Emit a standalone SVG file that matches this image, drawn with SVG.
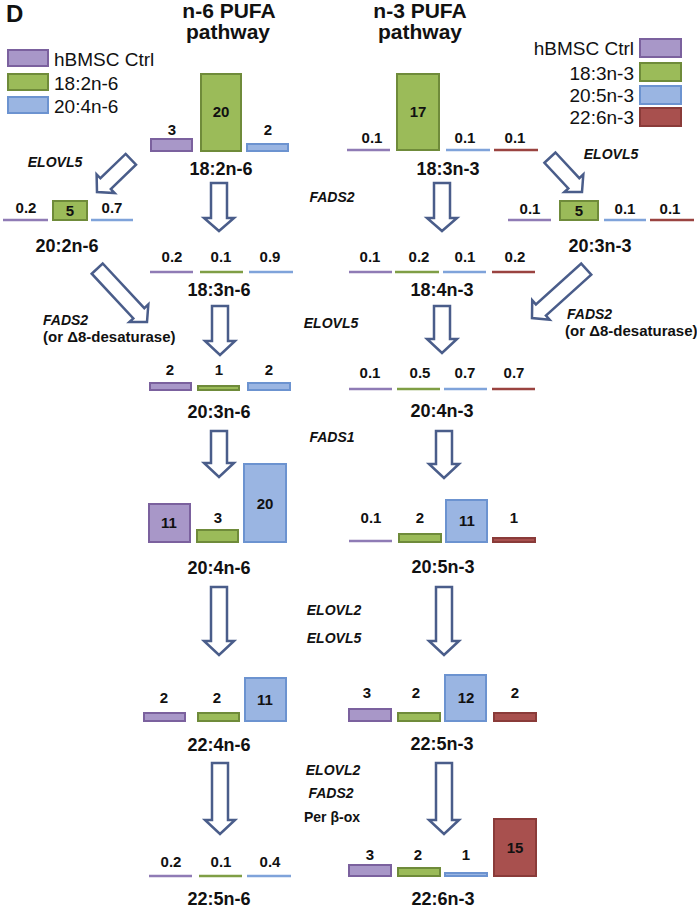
<svg xmlns="http://www.w3.org/2000/svg" width="697" height="910" viewBox="0 0 697 910">
<style>
text{font-family:"Liberation Sans",Arial,sans-serif;fill:#111}
.t{font-size:21px;font-weight:bold;text-anchor:middle}
.lg{font-size:19px}
.v{font-size:15px;font-weight:bold;text-anchor:middle}
.n{font-size:18px;font-weight:bold;text-anchor:middle}
.e{font-size:14px;font-weight:bold;font-style:italic;text-anchor:middle}
.el{font-size:14px;font-weight:bold;font-style:italic}
.p{font-size:15px;font-weight:bold}
.pu{fill:#A897C8;stroke:#7B619E;stroke-width:2}
.gr{fill:#9BBB59;stroke:#6F8B3A;stroke-width:2}
.bl{fill:#9AB5E2;stroke:#6C93D0;stroke-width:2}
.rd{fill:#A8504E;stroke:#8A3B39;stroke-width:2}
.lpu{stroke:#8F7BB5;stroke-width:2.5}
.lgr{stroke:#7F9E45;stroke-width:2.5}
.lbl{stroke:#7FA3DA;stroke-width:2.5}
.lrd{stroke:#9A4340;stroke-width:2.5}
.ar{fill:#fff;stroke:#4A5D8A;stroke-width:2.5;stroke-linejoin:miter}
</style>
<defs>
<polygon id="da47" points="-7.5,-47 7.5,-47 7.5,-12 13,-12 0,0 -13,-12 -7.5,-12"/>
<polygon id="da73" points="-7.5,-73 7.5,-73 7.5,-12 13,-12 0,0 -13,-12 -7.5,-12"/>
</defs>

<g id="title">
<text x="6" y="22" style="font-size:24px;font-weight:bold">D</text>
<text class="t" x="229" y="18">n-6 PUFA</text>
<text class="t" x="228" y="39">pathway</text>
<text class="t" x="420" y="18">n-3 PUFA</text>
<text class="t" x="420" y="39">pathway</text>
</g>

<g id="legend-n6">
<rect class="pu" x="8" y="50" width="40" height="16"/>
<rect class="gr" x="8" y="74" width="40" height="16"/>
<rect class="bl" x="8" y="97" width="40" height="16"/>
<text class="lg" x="54" y="66">hBMSC Ctrl</text>
<text class="lg" x="54" y="90">18:2n-6</text>
<text class="lg" x="54" y="113">20:4n-6</text>
</g>

<g id="legend-n3">
<rect class="pu" x="640" y="39" width="41" height="18"/>
<rect class="gr" x="640" y="63" width="41" height="18"/>
<rect class="bl" x="640" y="86" width="41" height="18"/>
<rect class="rd" x="640" y="108" width="41" height="18"/>
<text class="lg" x="634" y="55" text-anchor="end">hBMSC Ctrl</text>
<text class="lg" x="634" y="80" text-anchor="end">18:3n-3</text>
<text class="lg" x="634" y="102" text-anchor="end">20:5n-3</text>
<text class="lg" x="634" y="124" text-anchor="end">22:6n-3</text>
</g>

<g id="connectors">
<polygon class="ar" points="211,183 227,183 227,218 234,218 219,231 204,218 211,218"/>
<polygon class="ar" points="212,306 228,306 228,341 235,341 220,355 205,341 212,341"/>
<polygon class="ar" points="211,431 227,431 227,463 234,463 219,477 204,463 211,463"/>
<polygon class="ar" points="211,587 227,587 227,641 234,641 219,655 204,641 211,641"/>
<polygon class="ar" points="212,763 228,763 228,820 235,820 220,834 205,820 212,820"/>
<polygon class="ar" points="434,183 450,183 450,218 457,218 442,231 427,218 434,218"/>
<polygon class="ar" points="434,306 450,306 450,339 457,339 442,353 427,339 434,339"/>
<polygon class="ar" points="436,431 452,431 452,464 459,464 444,478 429,464 436,464"/>
<polygon class="ar" points="436,587 452,587 452,641 459,641 444,655 429,641 436,641"/>
<polygon class="ar" points="436,763 452,763 452,820 459,820 444,834 429,820 436,820"/>
<use href="#da47" class="ar" transform="translate(97,192) rotate(46)"/>
<use href="#da47" class="ar" transform="translate(582,192) rotate(-43)"/>
<use href="#da73" class="ar" transform="translate(147,322) rotate(-43)"/>
<use href="#da73" class="ar" transform="translate(532,318) rotate(48)"/>
</g>

<g id="enzymes">
<text class="e" x="55" y="167">ELOVL5</text>
<text class="e" x="332" y="202">FADS2</text>
<text class="e" x="611" y="159">ELOVL5</text>
<text class="el" x="43" y="325">FADS2</text>
<text class="p" x="43" y="342">(or Δ8-desaturase)</text>
<text class="e" x="331" y="328">ELOVL5</text>
<text class="el" x="567" y="319">FADS2</text>
<text class="p" x="565" y="336">(or Δ8-desaturase)</text>
<text class="e" x="332" y="442">FADS1</text>
<text class="e" x="334" y="615">ELOVL2</text>
<text class="e" x="334" y="643">ELOVL5</text>
<text class="e" x="333" y="775">ELOVL2</text>
<text class="e" x="331" y="798">FADS2</text>
<text x="332" y="822" style="font-size:14px;font-weight:bold;text-anchor:middle">Per β-ox</text>
</g>

<g id="n-18-2n-6">
<rect class="pu" x="151" y="139" width="41" height="12"/>
<rect class="gr" x="201" y="74" width="40" height="77"/>
<rect class="bl" x="247" y="144" width="41" height="7"/>
<text class="v" x="172" y="135">3</text>
<text class="v" x="221" y="117">20</text>
<text class="v" x="268" y="135">2</text>
<text class="n" x="221" y="175">18:2n-6</text>
</g>

<g id="n-20-2n-6">
<line class="lpu" x1="3" y1="220" x2="48" y2="220"/>
<rect class="gr" x="53" y="201" width="34" height="19"/>
<line class="lbl" x1="91" y1="220" x2="133" y2="220"/>
<text class="v" x="26" y="213">0.2</text>
<text class="v" x="70" y="216">5</text>
<text class="v" x="112" y="213">0.7</text>
<text class="n" x="67" y="252">20:2n-6</text>
</g>

<g id="n-18-3n-6">
<line class="lpu" x1="150" y1="272" x2="193" y2="272"/>
<line class="lgr" x1="200" y1="272" x2="243" y2="272"/>
<line class="lbl" x1="249" y1="272" x2="293" y2="272"/>
<text class="v" x="172" y="262">0.2</text>
<text class="v" x="221" y="262">0.1</text>
<text class="v" x="270" y="262">0.9</text>
<text class="n" x="219" y="296">18:3n-6</text>
</g>

<g id="n-20-3n-6">
<rect class="pu" x="150" y="383" width="41" height="7"/>
<rect class="gr" x="198" y="386" width="41" height="4"/>
<rect class="bl" x="248" y="383" width="42" height="7"/>
<text class="v" x="170" y="375">2</text>
<text class="v" x="219" y="375">1</text>
<text class="v" x="269" y="375">2</text>
<text class="n" x="219" y="418">20:3n-6</text>
</g>

<g id="n-20-4n-6">
<rect class="pu" x="149" y="504" width="41" height="38"/>
<rect class="gr" x="197" y="530" width="41" height="12"/>
<rect class="bl" x="244" y="464" width="42" height="78"/>
<text class="v" x="169" y="528">11</text>
<text class="v" x="218" y="523">3</text>
<text class="v" x="265" y="509">20</text>
<text class="n" x="219" y="574">20:4n-6</text>
</g>

<g id="n-22-4n-6">
<rect class="pu" x="144" y="713" width="41" height="8"/>
<rect class="gr" x="198" y="713" width="41" height="8"/>
<rect class="bl" x="245" y="678" width="41" height="43"/>
<text class="v" x="164" y="703">2</text>
<text class="v" x="217" y="703">2</text>
<text class="v" x="265" y="705">11</text>
<text class="n" x="219" y="751">22:4n-6</text>
</g>

<g id="n-22-5n-6">
<line class="lpu" x1="149" y1="876" x2="192" y2="876"/>
<line class="lgr" x1="199" y1="876" x2="242" y2="876"/>
<line class="lbl" x1="247" y1="876" x2="291" y2="876"/>
<text class="v" x="171" y="867">0.2</text>
<text class="v" x="221" y="867">0.1</text>
<text class="v" x="270" y="867">0.4</text>
<text class="n" x="219" y="905">22:5n-6</text>
</g>

<g id="n-18-3n-3">
<line class="lpu" x1="347" y1="150" x2="390" y2="150"/>
<rect class="gr" x="397" y="74" width="42" height="76"/>
<line class="lbl" x1="446" y1="150" x2="490" y2="150"/>
<line class="lrd" x1="494" y1="150" x2="538" y2="150"/>
<text class="v" x="372" y="143">0.1</text>
<text class="v" x="418" y="117">17</text>
<text class="v" x="465" y="143">0.1</text>
<text class="v" x="515" y="143">0.1</text>
<text class="n" x="448" y="175">18:3n-3</text>
</g>

<g id="n-20-3n-3">
<line class="lpu" x1="508" y1="220" x2="551" y2="220"/>
<rect class="gr" x="560" y="201" width="38" height="19"/>
<line class="lbl" x1="604" y1="220" x2="646" y2="220"/>
<line class="lrd" x1="650" y1="220" x2="694" y2="220"/>
<text class="v" x="530" y="214">0.1</text>
<text class="v" x="579" y="216">5</text>
<text class="v" x="625" y="214">0.1</text>
<text class="v" x="670" y="214">0.1</text>
<text class="n" x="600" y="252">20:3n-3</text>
</g>

<g id="n-18-4n-3">
<line class="lpu" x1="349" y1="272" x2="392" y2="272"/>
<line class="lgr" x1="395" y1="272" x2="439" y2="272"/>
<line class="lbl" x1="443" y1="272" x2="486" y2="272"/>
<line class="lrd" x1="492" y1="272" x2="535" y2="272"/>
<text class="v" x="370" y="262">0.1</text>
<text class="v" x="419" y="262">0.2</text>
<text class="v" x="465" y="262">0.1</text>
<text class="v" x="515" y="262">0.2</text>
<text class="n" x="442" y="296">18:4n-3</text>
</g>

<g id="n-20-4n-3">
<line class="lpu" x1="349" y1="389" x2="392" y2="389"/>
<line class="lgr" x1="397" y1="389" x2="440" y2="389"/>
<line class="lbl" x1="444" y1="389" x2="487" y2="389"/>
<line class="lrd" x1="492" y1="389" x2="535" y2="389"/>
<text class="v" x="370" y="378">0.1</text>
<text class="v" x="420" y="378">0.5</text>
<text class="v" x="465" y="378">0.7</text>
<text class="v" x="514" y="378">0.7</text>
<text class="n" x="442" y="417">20:4n-3</text>
</g>

<g id="n-20-5n-3">
<line class="lpu" x1="349" y1="541" x2="392" y2="541"/>
<rect class="gr" x="399" y="534" width="42" height="8"/>
<rect class="bl" x="446" y="500" width="41" height="42"/>
<rect class="rd" x="493" y="538" width="42" height="4"/>
<text class="v" x="371" y="523">0.1</text>
<text class="v" x="420" y="523">2</text>
<text class="v" x="467" y="526">11</text>
<text class="v" x="514" y="523">1</text>
<text class="n" x="443" y="573">20:5n-3</text>
</g>

<g id="n-22-5n-3">
<rect class="pu" x="349" y="709" width="42" height="12"/>
<rect class="gr" x="398" y="713" width="42" height="8"/>
<rect class="bl" x="445" y="675" width="41" height="46"/>
<rect class="rd" x="494" y="713" width="42" height="8"/>
<text class="v" x="367" y="698">3</text>
<text class="v" x="416" y="698">2</text>
<text class="v" x="466" y="703">12</text>
<text class="v" x="515" y="698">2</text>
<text class="n" x="442" y="750">22:5n-3</text>
</g>

<g id="n-22-6n-3">
<rect class="pu" x="349" y="865" width="42" height="11"/>
<rect class="gr" x="398" y="868" width="42" height="8"/>
<rect class="bl" x="445" y="873" width="42" height="3"/>
<rect class="rd" x="494" y="819" width="42" height="57"/>
<text class="v" x="370" y="860">3</text>
<text class="v" x="418" y="860">2</text>
<text class="v" x="466" y="860">1</text>
<text class="v" x="515" y="853">15</text>
<text class="n" x="443" y="905">22:6n-3</text>
</g>
</svg>
